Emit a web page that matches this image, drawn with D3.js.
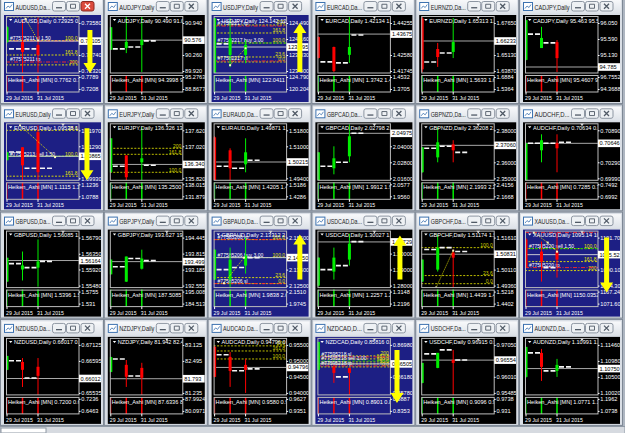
<!DOCTYPE html>
<html>
<head>
<meta charset="utf-8">
<script src="https://cdn.jsdelivr.net/npm/d3@7"></script>
<style>
  body { margin: 0; background: #b4bcc6; }
  svg text { font-family: "Liberation Sans", Arial, sans-serif; }
</style>
</head>
<body>
<svg id="chart" width="625" height="433"></svg>
<script>
// ---- data (24 MT4 daily windows, row by row) ----
const symbols = ["AUDUSD","AUDJPY","USDJPY","EURCAD","EURNZD","CADJPY",
                 "EURUSD","EURJPY","EURAUD","GBPCAD","GBPNZD","AUDCHF",
                 "GBPUSD","GBPJPY","GBPAUD","USDCAD","GBPCHF","XAUUSD",
                 "NZDUSD","NZDJPY","AUDCAD","NZDCAD","USDCHF","AUDNZD"];

const windowTitles = ["AUDUSD,Da...","AUDJPY,Daily","USDJPY,Daily","EURCAD,Da...","EURNZD,Da...","CADJPY,Daily",
                      "EURUSD,Daily","EURJPY,Daily","EURAUD,Da...","GBPCAD,Da...","GBPNZD,Da...","AUDCHF,D...",
                      "GBPUSD,Da...","GBPJPY,Daily","GBPAUD,Da...","USDCAD,Da...","GBPCHF,Da...","XAUUSD,Da...",
                      "NZDUSD,Da...","NZDJPY,Daily","AUDCAD,Da...","NZDCAD,D...","USDCHF,Da...","AUDNZD,Da..."];

const bluePanels = [0, 2, 6, 14, 17, 21];

const mainTicks = [
  ["0.73580","0.73160","0.72740","0.72320"], ["90.940","90.600","90.260","89.920"],
  ["124.490","124.160","123.830","123.500"], ["1.44255","1.43445","1.42580","1.41745"],
  ["1.67650","1.66390","1.65130","1.63870"], ["96.050","95.590","95.130","94.670"],
  ["1.11970","1.11290","1.10610","1.09930"], ["137.620","137.020","136.420","135.820"],
  ["1.51800","1.51000","1.50200","1.49400"], ["2.05200","2.04000","2.02800","2.01600"],
  ["2.38000","2.37000","2.36000","2.35000"], ["0.70890","0.70590","0.70290","0.69990"],
  ["1.56790","1.56350","1.55920","1.55480"], ["194.445","193.815","193.185","192.555"],
  ["2.15500","2.14500","2.13500","2.12500"], ["1.31000","1.30000","1.29000","1.28000"],
  ["1.51610","1.50860","1.50110","1.49360"], ["1101.70","1095.90","1090.10","1084.30"],
  ["0.67125","0.66595","0.66065","0.65535"], ["83.125","82.495","81.865","81.235"],
  ["0.95500","0.95000","0.94500","0.94000"], ["0.86980","0.86580","0.86180","0.85780"],
  ["0.97050","0.96530","0.96010","0.95485"], ["1.11460","1.10980","1.10500","1.10020"]
];

const prices = ["0.73105","90.576","123.995","1.43675","1.66233","94.785",
                "1.10865","136.340","1.50215","2.04975","2.37060","0.70646",
                "1.56164","193.499","2.14250","1.30729","1.50831","1095.52",
                "0.66012","81.793","0.94796","0.86505","0.96554","1.10750"];

const headNums = ["0.72925 0.735","90.490 91.023 9","124.142 124.37","1.42134 1.445","1.65313 1.6815","95.463 95.555 9",
                  "1.09538 1.1113","136.326 136.55","1.49871 1.518","2.02798 2.046","2.36208 2.386","0.70634 0.707",
                  "1.56085 1.567","193.627 194.00","2.13312 2.144","1.30027 1.309","1.51174 1.512","1095.14 1099.",
                  "0.66017 0.667","81.942 82.461 8","0.94796 0.957","0.85816 0.865","0.96915 0.969","1.10991 1.111"];

const subNums = ["0.7762 0.7497","94.3998 92.27","122.0411 122.","1.3742 1.4249","1.5633 1.6665","95.4607 96.41",
                 "1.1115 1.1030","135.2500 135.","1.4205 1.4806","1.9912 1.9965","2.1993 2.2292","0.7285 0.7142",
                 "1.5396 1.5536","187.5085 193.","1.9838 2.0091","1.2257 1.2766","1.4439 1.4823","1150.0352 113",
                 "0.7200 0.6669","87.6336 82.25","0.9580 0.9562","0.8901 0.8542","0.9096 0.9614","1.0771 1.1096"];

const subTicks = [["0.7789","0.7208"],["95.2763","88.8677"],["124.7905","120.2046"],["1.4532","1.3705"],
                  ["1.6884","1.5364"],["96.7552","94.3688"],["1.1236","1.0788"],["138.0158","131.8794"],
                  ["1.5186","1.4286"],["2.0577","1.9560"],["2.4156","2.1668"],["0.7492","0.6992"],
                  ["1.5755","1.531"],["195.0085","184.5131"],["2.1510","1.9745"],["1.3148","1.2196"],
                  ["1.5218","1.4402"],["1167.24","1071.600"],["0.7236","0.6463"],["87.9924","80.0971"],
                  ["0.9627","0.9351"],["0.8887","0.8353"],["0.9738","0.931"],["1.1962","1.0738"]];

// monthly Heiken Ashi direction shown in the sub window (1 up, -1 down)
const subDir = [-1,-1,1,1,1,-1, -1,1,1,1,1,-1, 1,1,1,1,1,-1, -1,-1,-1,-1,1,1];

const days = [29, 30, 31];
const dateTicks = [29, 31];
const dateText = ["29 Jul 2015", "31 Jul 2015"];

// daily Heiken Ashi candles [open, high, low, close] for 29, 30, 31 Jul
const candles = [
  [[0.7308,0.7350,0.7305,0.7347],[0.7308,0.7366,0.7227,0.7282],[0.7300,0.7372,0.7227,0.7274]],
  [[90.37,90.855,90.366,90.85],[90.41,91.09,90.30,90.54],[90.47,91.09,89.90,90.58]],
  [[123.46,124.59,123.45,124.59],[123.83,124.59,123.58,124.18],[123.83,124.14,123.66,124.04]],
  [[1.4352,1.4355,1.4240,1.4243],[1.4300,1.4302,1.4168,1.4175],[1.4259,1.4467,1.4217,1.4300]],
  [[1.6800,1.6812,1.6379,1.6400],[1.6560,1.6608,1.6419,1.6497],[1.6537,1.6804,1.6489,1.6615]],
  [[94.99,96.14,94.98,96.13],[95.33,95.94,95.33,95.62],[95.50,95.56,94.64,95.04]],
  [[1.1070,1.1104,1.1069,1.1104],[1.1125,1.1125,1.0985,1.1048],[1.1189,1.1218,1.0985,1.1019]],
  [[136.05,137.32,136.04,137.32],[136.68,136.68,135.60,135.86],[136.42,137.73,135.67,136.57]],
  [[1.5145,1.5150,1.4930,1.4930],[1.5080,1.5090,1.4920,1.4990],[1.5010,1.5140,1.4970,1.5070]],
  [[2.0145,2.0355,2.0140,2.0355],[2.0235,2.0400,2.0190,2.0310],[2.0325,2.0565,2.0280,2.0475]],
  [[2.3538,2.3694,2.3535,2.3694],[2.3631,2.3819,2.3600,2.3725],[2.3712,2.3738,2.3600,2.3675]],
  [[0.6995,0.7065,0.6993,0.70646],[0.70515,0.70815,0.7029,0.70703],[0.7065,0.70815,0.70103,0.70553]],
  [[1.5559,1.5624,1.5558,1.5624],[1.5592,1.5641,1.5562,1.5603],[1.5597,1.5674,1.5545,1.5614]],
  [[193.00,193.58,192.99,193.58],[192.71,193.70,192.70,193.70],[193.22,193.97,193.19,193.62]],
  [[2.12875,2.1475,2.1285,2.1475],[2.12875,2.14875,2.12375,2.14125],[2.1375,2.1550,2.1325,2.14375]],
  [[1.2800,1.2975,1.2795,1.2975],[1.28875,1.30375,1.28375,1.2975],[1.29625,1.3125,1.2925,1.30625]],
  [[1.4955,1.5058,1.4953,1.5058],[1.5011,1.5175,1.5002,1.5114],[1.5091,1.5105,1.4927,1.5067]],
  [[1101.0,1101.5,1090.8,1091.0],[1096.63,1100.25,1085.75,1093.0],[1096.63,1103.5,1087.2,1093.73]],
  [[0.6630,0.6676,0.6629,0.6676],[0.6656,0.6669,0.6573,0.6630],[0.6640,0.6669,0.6540,0.6610]],
  [[82.06,82.65,82.05,82.65],[82.34,82.53,81.47,81.87],[82.22,82.42,81.08,81.83]],
  [[0.9544,0.9546,0.9449,0.9450],[0.95125,0.9528,0.94188,0.94688],[0.94875,0.95063,0.9400,0.94719]],
  [[0.86355,0.87055,0.8635,0.87055],[0.8643,0.8648,0.8603,0.8628],[0.86405,0.86405,0.8568,0.8628]],
  [[0.9581,0.96463,0.9580,0.96463],[0.9630,0.9679,0.9629,0.9679],[0.96561,0.96887,0.9542,0.96463]],
  [[1.1050,1.1140,1.1048,1.1140],[1.1122,1.1134,1.1038,1.1080],[1.1068,1.1104,1.1050,1.1086]]
];

// short white level marks right of each candle (null = none)
const dashes = [
  [0.7290,0.7290,null],[90.39,90.43,90.56],[124.06,null,null],[1.4222,1.4217,1.4363],
  [1.6458,1.6529,null],[95.73,95.48,null],[1.1105,1.1036,1.1036],[136.27,135.67,136.31],
  [1.5000,1.4990,1.5030],[2.0250,2.0280,2.0498],[2.3688,2.3700,2.3662],[0.70646,0.70646,0.70665],
  [1.5608,1.5597,1.5614],[193.30,193.62,193.54],[2.1350,2.1363,2.1425],[1.2900,1.2925,1.3075],
  [1.5105,1.5114,1.5096],[null,1090.83,null],[0.6660,0.6603,null],[82.57,81.90,null],
  [0.9519,0.9469,0.9475],[null,0.8618,null],[0.96757,0.96887,0.9656],[1.1122,1.1068,1.1080]
];

// fibonacci levels [panel, price, label]
const fibLevels = [
  [0,0.7374,"200"],[0,0.7312,"100.0"],[0,0.7274,"161.8"],[0,0.7248,"200"],
  [2,124.449,"200"],[2,124.284,"161.8"],[2,124.0775,"100.0"],[2,123.789,"23.6"],[2,123.686,"0.0"],
  [6,1.1197,"23.6"],[6,1.10865,"100.0"],[6,1.1002,"161.8"],
  [7,136.945,"200"],[7,136.72,"161.8"],[7,136.045,"100.0"],
  [14,2.15375,"161.8"],[14,2.1425,"100.0"],[14,2.13,"23.6"],[14,2.12625,"0.0"],
  [16,1.5114,"100.0"],[16,1.4983,"23.6"],[16,1.4945,"0.0"],
  [17,1097.71,"100.0"],[17,1093.0,"161.8"],[17,1089.74,"200"],
  [20,0.9547,"200"],[20,0.9531,"161.8"],[20,0.9506,"100.0"],
  [21,0.86705,"200"],[21,0.8663,"161.8"],[21,0.86555,"100.0"],[21,0.86505,"50.0"],[21,0.8643,"0.0"]
];

// order lines [panel, price, text]
const orderLines = [
  [0,0.73108,"#77575211 sl 1.50"],[0,0.72556,"#77575211 tp"],
  [2,124.428,"#77582217 tp"],[2,124.0775,"#77582217 buy 3.00"],[2,123.706,"#77582217 sl"],
  [6,1.10865,"#77575213 sell 1.50"],
  [14,2.15375,"#77585206 tp"],[14,2.1425,"#77585206 buy 3.00"],[14,2.12625,"#77585206 sl"],
  [17,1103.51,""],[17,1097.71,"#77585220 sell 1.50"],[17,1090.83,"#77585220 tp"],
  [21,0.8668,"#77595218 sl"],[21,0.8658,"#77595218 sell 1.00"],[21,0.86455,"#77595218 tp"]
];

// dotted trend lines [panel, [[day, price], ...]]
const diagonals = [
  [0, [[30.2,0.7369],[31.0,0.7312]]],
  [2, [[30.0,123.62],[31.0,123.97]]],
  [6, [[29.84,1.1218],[32.1,1.1083]]],
  [14, [[29.6,2.1265],[30.9,2.1425]]],
  [16, [[29.9,1.4927],[31.0,1.5100]]],
  [17, [[29.5,1103.5],[30.4,1099.9],[31.0,1096.6]]]
];

// big yellow arrows [panel, day, from price, to price]
const arrows = [
  [0, 34.35, 0.73396, 0.72268],
  [2, 34.5, 123.48, 124.49],
  [6, 34.16, 1.12055, 1.0985],
  [14, 34.5, 2.12875, 2.15687],
  [15, 34.26, 1.28375, 1.31125],
  [17, 34.2, 1101.7, 1081.76],
  [21, 34.07, 0.86855, 0.8553]
];

// ---- drawing ----
const svg = d3.select("#chart");
const defs = svg.append("defs");
const grad = defs.append("linearGradient").attr("id", "tb")
  .attr("x1", 0).attr("y1", 0).attr("x2", 0).attr("y2", 1);
grad.append("stop").attr("offset", "0").attr("stop-color", "#f8f9fb");
grad.append("stop").attr("offset", "1").attr("stop-color", "#dde2e8");

svg.append("rect").attr("width", 625).attr("height", 433).attr("fill", "#aeb6c1");

const BULL = "#00ee00", BEAR = "#ff0000";
const FS = 5.6;

symbols.forEach(function(sym, i) {
  const col = i % 6, row = Math.floor(i / 6);
  const px = col * 103.8, top = 15 + row * 107.3;
  const blue = bluePanels.includes(i);
  const g = svg.append("g");

  // window chrome
  g.append("rect").attr("x", px + 0.5).attr("y", top - 17.5).attr("width", 103).attr("height", 106)
    .attr("fill", "#d9dee5").attr("stroke", "#7e8895");
  g.append("rect").attr("x", px + 2).attr("y", top - 15.5).attr("width", 100).attr("height", 14)
    .attr("fill", "url(#tb)");
  g.append("rect").attr("x", px + 4.5).attr("y", top - 12.5).attr("width", 9).attr("height", 8)
    .attr("fill", "#fff").attr("stroke", "#3d72b0");
  g.append("path").attr("d", `M${px+6},${top-6.5}L${px+8},${top-9}L${px+10},${top-7.5}L${px+12},${top-10.5}`)
    .attr("fill", "none").attr("stroke", "#3d72b0").attr("stroke-width", 0.8);
  const tt = g.append("text").attr("x", px + 15.5).attr("y", top - 5.5).attr("font-size", 6.6)
    .attr("fill", "#1e1e1e").text(windowTitles[i]);
  if (tt.node().getComputedTextLength() > 35)
    tt.attr("textLength", 35).attr("lengthAdjust", "spacingAndGlyphs");
  [52.5, 66.5, 81].forEach(function(bx, j) {
    const red = (i === 0 && j === 2);
    g.append("rect").attr("x", px + bx).attr("y", top - 13.5).attr("width", 13).attr("height", 9.5).attr("rx", 2)
      .attr("fill", red ? "#db4a3c" : "#eef1f4").attr("stroke", red ? "#8c2a22" : "#8d96a2");
    const cx = px + bx + 6.5, cy = top - 8.75;
    const glyph = j === 0 ? `M${cx-3},${cy+1.5}h6`
      : j === 1 ? `M${cx-2.5},${cy-2}h5v4h-5z`
      : `M${cx-2.5},${cy-2.5}l5,5M${cx+2.5},${cy-2.5}l-5,5`;
    g.append("path").attr("d", glyph).attr("fill", "none")
      .attr("stroke", red ? "#fff" : "#505a66").attr("stroke-width", j === 1 ? 0.9 : 1.3);
  });

  // chart area
  g.append("rect").attr("x", px + 4).attr("y", top).attr("width", 97).attr("height", 87)
    .attr("fill", blue ? "#1d1f84" : "#000");

  const clipA = "a" + i, clipM = "m" + i, clipS = "s" + i;
  defs.append("clipPath").attr("id", clipA).append("rect")
    .attr("x", px + 4).attr("y", top).attr("width", 97).attr("height", 87);
  defs.append("clipPath").attr("id", clipM).append("rect")
    .attr("x", px + 6).attr("y", top + 1).attr("width", 73).attr("height", 57);
  defs.append("clipPath").attr("id", clipS).append("rect")
    .attr("x", px + 6).attr("y", top + 60).attr("width", 73).attr("height", 17);

  const area = g.append("g").attr("clip-path", `url(#${clipA})`);
  const main = area.append("g").attr("clip-path", `url(#${clipM})`);
  const sub = area.append("g").attr("clip-path", `url(#${clipS})`);

  const x = d3.scaleLinear().domain([29, 31]).range([px + 7, px + 38]);
  const tv = mainTicks[i].map(Number);
  const y = d3.scaleLinear().domain([tv[3], tv[0]]).range([top + 56, top + 8]);
  const st = subTicks[i].map(Number);
  const ys = d3.scaleLinear().domain([st[1], st[0]]).range([top + 74, top + 62]);

  // fibonacci levels
  const fibColor = blue ? "#e6e600" : "#d2d200";
  fibLevels.filter(f => f[0] === i).forEach(function(f) {
    main.append("line").attr("x1", px + 6).attr("x2", px + 79).attr("y1", y(f[1])).attr("y2", y(f[1]))
      .attr("stroke", fibColor).attr("stroke-dasharray", "2,1.5").attr("stroke-width", 0.9);
    main.append("text").attr("x", px + 77.5).attr("y", y(f[1]) - 0.8).attr("text-anchor", "end")
      .attr("font-size", 5).attr("fill", fibColor).text(f[2]);
  });

  // order lines
  orderLines.filter(o => o[0] === i).forEach(function(o) {
    const entry = /buy|sell/.test(o[2]);
    main.append("line").attr("x1", px + 6).attr("x2", px + 79).attr("y1", y(o[1])).attr("y2", y(o[1]))
      .attr("stroke", entry ? "#00c000" : "#ff2a2a").attr("stroke-width", 0.9)
      .attr("stroke-dasharray", entry ? "3,2" : "4,1.5,1,1.5");
    if (o[2]) main.append("text").attr("x", px + 10).attr("y", y(o[1]) - 0.8)
      .attr("font-size", 5).attr("fill", "#fff").text(o[2]);
  });

  // bid line
  const pv = +prices[i];
  main.append("line").attr("x1", px + 6).attr("x2", px + 79).attr("y1", y(pv)).attr("y2", y(pv))
    .attr("stroke", blue ? "#c8c8d0" : "#a8a8a8").attr("stroke-width", 1);

  // white level dashes
  dashes[i].forEach(function(v, k) {
    if (v === null) return;
    main.append("line").attr("x1", x(days[k]) + 2).attr("x2", x(days[k]) + 14)
      .attr("y1", y(v)).attr("y2", y(v))
      .attr("stroke", "#f4f4f4").attr("stroke-width", 1.6).attr("stroke-dasharray", "5,2");
  });

  // candles
  candles[i].forEach(function(c, k) {
    const col = c[3] >= c[0] ? BULL : BEAR;
    const cx = x(days[k]);
    main.append("line").attr("x1", cx).attr("x2", cx).attr("y1", y(c[1])).attr("y2", y(c[2]))
      .attr("stroke", col).attr("stroke-width", 1);
    const yt = y(Math.max(c[0], c[3])), yb = y(Math.min(c[0], c[3]));
    main.append("rect").attr("x", cx - 1.5).attr("width", 3)
      .attr("y", yt).attr("height", Math.max(1, yb - yt)).attr("fill", col);
  });

  // dotted trend lines
  diagonals.filter(d => d[0] === i).forEach(function(d) {
    main.append("path").attr("d", d3.line().x(p => x(p[0])).y(p => y(p[1]))(d[1]))
      .attr("fill", "none").attr("stroke", "#f0f000").attr("stroke-width", 0.9).attr("stroke-dasharray", "1,1.2");
    d[1].forEach(function(p) {
      main.append("rect").attr("x", x(p[0]) - 1).attr("y", y(p[1]) - 1).attr("width", 2).attr("height", 2)
        .attr("fill", "#f6f6c0");
    });
  });

  // chart header
  main.append("path").attr("d", `M${px+9},${top+4}h3.4l-1.7,2z`).attr("fill", "#fff");
  main.append("text").attr("x", px + 14).attr("y", top + 7.5).attr("font-size", FS).attr("fill", "#fff")
    .text(sym + ",Daily  " + headNums[i]);
  main.append("path").attr("d", `M${px+61},${top+1}h4l-2,3z`).attr("fill", "#e8e8e8");

  // sub window: monthly Heiken Ashi bars
  const span = st[0] - st[1];
  days.forEach(function(d, k) {
    sub.append("line").attr("x1", x(d)).attr("x2", x(d))
      .attr("y1", ys(st[0] + span * 0.3)).attr("y2", ys(st[1] - span * 0.3))
      .attr("stroke", subDir[i] > 0 ? BULL : BEAR).attr("stroke-width", k === 0 ? 1.2 : 1.5)
      .attr("opacity", k === 0 ? 0.75 : 1);
  });
  sub.append("text").attr("x", px + 8).attr("y", top + 67).attr("font-size", FS).attr("fill", "#fff")
    .text("Heiken_Ashi [MN]  " + subNums[i]);

  // frames
  area.append("rect").attr("x", px + 6.5).attr("y", top + 1.5).attr("width", 72.5).attr("height", 56.5)
    .attr("fill", "none").attr("stroke", "#bcbcbc");
  area.append("rect").attr("x", px + 6.5).attr("y", top + 60.5).attr("width", 72.5).attr("height", 16.5)
    .attr("fill", "none").attr("stroke", "#bcbcbc");

  // price axes (a tick hidden under the bid label is left out)
  const shown = tv.filter(v => Math.abs(y(v) - y(pv)) > 6);
  const ax = area.append("g").attr("transform", `translate(${px + 79},0)`)
    .call(d3.axisRight(y).tickValues(shown).tickSize(1.5).tickPadding(0.8)
      .tickFormat(d => mainTicks[i][tv.indexOf(d)]));
  const sax = area.append("g").attr("transform", `translate(${px + 79},0)`)
    .call(d3.axisRight(ys).tickValues(st).tickSize(1.5).tickPadding(0.8)
      .tickFormat((d, k) => subTicks[i][k]));
  [ax, sax].forEach(function(a) {
    a.select(".domain").remove();
    a.attr("font-family", null).attr("font-size", null);
    a.selectAll("line").attr("stroke", "#fff");
    a.selectAll("text").attr("fill", "#fff").attr("font-size", FS);
  });

  // bid label
  area.append("rect").attr("x", px + 79).attr("y", y(pv) - 3.8).attr("width", 22).attr("height", 7.6)
    .attr("fill", "#fff");
  area.append("text").attr("x", px + 80.5).attr("y", y(pv) + 2).attr("font-size", FS).attr("fill", "#000")
    .text(prices[i]);

  // dates
  dateTicks.forEach(function(d, k) {
    area.append("line").attr("x1", x(d)).attr("x2", x(d)).attr("y1", top + 77).attr("y2", top + 79.5)
      .attr("stroke", "#fff");
    area.append("text").attr("x", x(d) - 1).attr("y", top + 85).attr("font-size", 5.2).attr("fill", "#fff")
      .text(dateText[k]);
  });

  // yellow arrows
  arrows.filter(a => a[0] === i).forEach(function(a) {
    const ax0 = x(a[1]), y1 = y(a[2]), y2 = y(a[3]);
    const s = y2 > y1 ? 1 : -1, hb = y2 - s * 10;
    const pts = [[ax0 - 2.5, y1], [ax0 + 2.5, y1], [ax0 + 2.5, hb], [ax0 + 6.5, hb], [ax0, y2],
                 [ax0 - 6.5, hb], [ax0 - 2.5, hb]];
    area.append("path").attr("d", d3.line()(pts) + "Z").attr("fill", "#ffff00");
  });
});

// bottom tab strip
svg.append("rect").attr("x", 0).attr("y", 426.5).attr("width", 625).attr("height", 7)
  .attr("fill", "#d6dae0").attr("stroke", "#8e98a4");
svg.append("rect").attr("x", 1).attr("y", 428).attr("width", 45).attr("height", 5)
  .attr("fill", "#fff").attr("stroke", "#8e98a4");
</script>
</body>
</html>
